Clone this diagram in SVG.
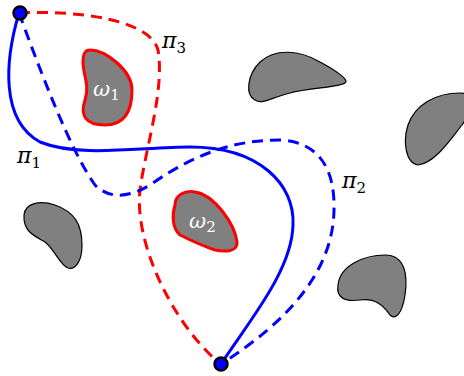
<svg xmlns="http://www.w3.org/2000/svg" width="464" height="376" viewBox="0 0 464 376">
<style>
.obs{fill:#808080;stroke:#000;stroke-width:1.2}
.obr{fill:#808080;stroke:#f00;stroke-width:3}
.p{fill:none;stroke-width:3}
.dash{stroke-dasharray:11 7}
.lbl{font-family:"DejaVu Serif","Liberation Serif",serif;font-style:italic;font-size:22px;fill:#000}
.sub{font-style:normal;font-size:15px}
.wl{font-family:"DejaVu Serif","Liberation Serif",serif;font-style:italic;font-size:21px;fill:#fff}
.node{fill:#0000ff;stroke:#000;stroke-width:2.5}
</style>
<g id="obstacle-top"><path class="obs" d="M255,100 C245,95 247,75 260,62 C275,48 300,50 320,62 C335,70 350,80 345,83 C340,87 310,88 290,93 C270,98 262,105 255,100 Z"/></g>
<g id="obstacle-right"><path class="obs" d="M418,165 C405,163 403,140 408,125 C415,105 435,93 460,93 C475,93 472,110 462,125 C450,140 435,163 418,165 Z"/></g>
<g id="obstacle-bottom-right"><path class="obs" d="M338,285 C340,265 365,255 385,255 C405,255 408,275 405,295 C402,315 395,320 390,315 C383,305 375,298 360,300 C345,302 336,298 338,285 Z"/></g>
<g id="obstacle-left"><path class="obs" d="M24,215 C25,203 40,200 55,205 C75,212 82,225 82,245 C82,262 75,270 68,268 C60,265 55,250 45,242 C35,236 23,232 24,215 Z"/></g>
<g id="omega1"><path class="obr" d="M90,50 C105,50 132,70 132,90 C132,110 125,125 105,125 C85,125 80,115 85,100 C90,85 83,75 83,62 C83,52 86,50 90,50 Z"/><text class="wl" x="93" y="96">ω<tspan class="sub" dy="4">1</tspan></text></g>
<g id="omega2"><path class="obr" d="M175,205 C175,195 185,190 195,192 C215,195 235,225 237,242 C238,252 225,252 215,250 C200,245 190,240 180,235 C172,228 172,215 175,205 Z"/><text class="wl" x="189" y="228">ω<tspan class="sub" dy="4">2</tspan></text></g>
<g id="connectors">
<path id="pi3" class="p dash" stroke="#f00" d="M19,13 C80,10 150,20 158,50 C165,90 145,150 140,190 C134,240 170,320 218,362"/>
<path id="pi2" class="p dash" stroke="#00f" d="M19,13 C40,70 70,150 95,185 C110,200 130,197 150,185 C200,150 240,140 280,140 C320,142 335,170 334,210 C333,270 290,320 221,364"/>
<path id="pi1" class="p" stroke="#00f" d="M19,13 C5,60 0,120 40,142 C80,158 140,147 190,147 C260,147 295,185 293,225 C292,270 250,320 221,364"/>
</g>
<g id="start"><circle class="node" cx="20" cy="13" r="6.5"/></g>
<g id="goal"><circle class="node" cx="221" cy="364" r="6.5"/></g>
<text class="lbl" x="162" y="48">π<tspan class="sub" dy="5">3</tspan></text>
<text class="lbl" x="17" y="163">π<tspan class="sub" dy="5">1</tspan></text>
<text class="lbl" x="342" y="188">π<tspan class="sub" dy="5">2</tspan></text>
</svg>
